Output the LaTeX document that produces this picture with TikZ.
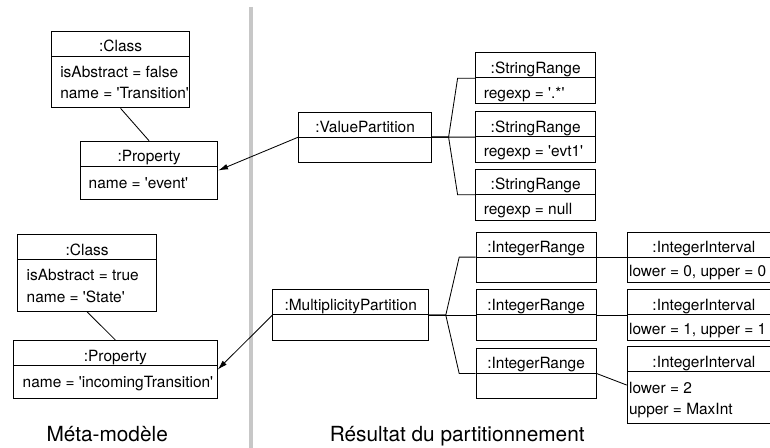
\documentclass[tikz,border=0pt]{standalone}
\usepackage{fontspec}
\setmainfont{TeX Gyre Heros}
\usetikzlibrary{arrows.meta}

\tikzset{
  objbox/.style={draw, line width=0.7pt, anchor=north west, inner sep=0pt,
    path picture={\draw[line width=0.7pt]
      ([yshift=-0.625cm]path picture bounding box.north west) --
      ([yshift=-0.625cm]path picture bounding box.north east);}},
  objname/.style={anchor=base, inner sep=0pt, font=\fontsize{11}{13}\selectfont},
  objattr/.style={anchor=base west, inner sep=0pt, font=\fontsize{11}{13}\selectfont},
  link/.style={line width=0.6pt},
  sidetitle/.style={anchor=base, inner sep=0pt, font=\fontsize{14.8}{17}\selectfont},
}
\newcommand{\q}{\textquotesingle}

\begin{document}
\begin{tikzpicture}[>={Latex[length=7pt,width=4pt]}]
	  \useasboundingbox (0,0) rectangle (19.25,-11.2);
	  % separation
	  \draw[line width=2.5pt,black!22] (6.27,-0.17) -- (6.27,-11.2);
	  % meta-modele
	  \node[objbox,minimum width=3.465cm,minimum height=1.915cm] (cls1) at (1.27,-0.77) {};
	  \node[objname] (cls1t) at ([yshift=-0.525cm]cls1.north) {:Class};
	  \node[objattr] (cls1a) at ([xshift=0.23cm,yshift=-1.16cm]cls1.north west) {isAbstract = false};
	  \node[objattr] (cls1b) at ([xshift=0.23cm,yshift=-1.70cm]cls1.north west) {name = \q Transition\q};
	  \node[objbox,minimum width=3.43cm,minimum height=1.46cm] (prop1) at (2.0,-3.52) {};
	  \node[objname] (prop1t) at ([yshift=-0.525cm]prop1.north) {:Property};
	  \node[objattr] (prop1a) at ([xshift=0.21cm,yshift=-1.19cm]prop1.north west) {name = \q event\q};
	  \node[objbox,minimum width=3.47cm,minimum height=1.92cm] (cls2) at (0.43,-5.85) {};
	  \node[objname] (cls2t) at ([yshift=-0.525cm]cls2.north) {:Class};
	  \node[objattr] (cls2a) at ([xshift=0.23cm,yshift=-1.16cm]cls2.north west) {isAbstract = true};
	  \node[objattr] (cls2b) at ([xshift=0.23cm,yshift=-1.70cm]cls2.north west) {name = \q State\q};
	  \node[objbox,minimum width=5.085cm,minimum height=1.46cm] (prop2) at (0.33,-8.5) {};
	  \node[objname] (prop2t) at ([yshift=-0.525cm]prop2.north) {:Property};
	  \node[objattr] (prop2a) at ([xshift=0.23cm,yshift=-1.19cm]prop2.north west) {name = \q incomingTransition\q};
	  \draw[link] (cls1.south) -- (prop1.north);
	  \draw[link] (cls2.south) -- (prop2.north);
	  % partitions
	  \node[objbox,minimum width=3.31cm,minimum height=1.25cm] (vpart) at (7.46,-2.79) {};
	  \node[objname] (vpartt) at ([yshift=-0.525cm]vpart.north) {:ValuePartition};
	  \node[objbox,minimum width=3.89cm,minimum height=1.27cm] (mpart) at (6.81,-7.23) {};
	  \node[objname] (mpartt) at ([yshift=-0.525cm]mpart.north) {:MultiplicityPartition};
	  \draw[link,->] (vpart.west) -- (prop1.east);
	  \draw[link,->] (mpart.west) -- (prop2.east);
	  % string ranges
	  \node[objbox,minimum width=3.0cm,minimum height=1.27cm] (sr1) at (11.88,-1.31) {};
	  \node[objname] (sr1t) at ([yshift=-0.525cm]sr1.north) {:StringRange};
	  \node[objattr] (sr1a) at ([xshift=0.21cm,yshift=-1.14cm]sr1.north west) {regexp = \q.*\q};
	  \node[objbox,minimum width=3.0cm,minimum height=1.27cm] (sr2) at (11.88,-2.78) {};
	  \node[objname] (sr2t) at ([yshift=-0.525cm]sr2.north) {:StringRange};
	  \node[objattr] (sr2a) at ([xshift=0.21cm,yshift=-1.14cm]sr2.north west) {regexp = \q evt1\q};
	  \node[objbox,minimum width=3.0cm,minimum height=1.27cm] (sr3) at (11.88,-4.22) {};
	  \node[objname] (sr3t) at ([yshift=-0.525cm]sr3.north) {:StringRange};
	  \node[objattr] (sr3a) at ([xshift=0.21cm,yshift=-1.14cm]sr3.north west) {regexp = null};
	  \draw[link] (vpart.east) -- ++(0.42,0) -- ([xshift=-0.44cm]sr1.west) -- (sr1.west);
	  \draw[link] (vpart.east) -- (sr2.west);
	  \draw[link] (vpart.east) -- ++(0.42,0) -- ([xshift=-0.44cm]sr3.west) -- (sr3.west);
	  % integer ranges
	  \node[objbox,minimum width=3.0cm,minimum height=1.25cm] (ir1) at (11.89,-5.79) {};
	  \node[objname] (ir1t) at ([yshift=-0.525cm]ir1.north) {:IntegerRange};
	  \node[objbox,minimum width=3.0cm,minimum height=1.27cm] (ir2) at (11.89,-7.23) {};
	  \node[objname] (ir2t) at ([yshift=-0.525cm]ir2.north) {:IntegerRange};
	  \node[objbox,minimum width=3.0cm,minimum height=1.27cm] (ir3) at (11.89,-8.69) {};
	  \node[objname] (ir3t) at ([yshift=-0.525cm]ir3.north) {:IntegerRange};
	  \draw[link] (mpart.east) -- ++(0.42,0) -- ([xshift=-0.41cm]ir1.west) -- (ir1.west);
	  \draw[link] (mpart.east) -- (ir2.west);
	  \draw[link] (mpart.east) -- ++(0.42,0) -- ([xshift=-0.41cm]ir3.west) -- (ir3.west);
	  % integer intervals
	  \node[objbox,minimum width=3.83cm,minimum height=1.25cm] (ii1) at (15.67,-5.79) {};
	  \node[objname] (ii1t) at ([yshift=-0.525cm]ii1.north) {:IntegerInterval};
	  \node[objattr] (ii1a) at ([xshift=0.05cm,yshift=-1.13cm]ii1.north west) {lower = 0, upper = 0};
	  \node[objbox,minimum width=3.83cm,minimum height=1.27cm] (ii2) at (15.67,-7.23) {};
	  \node[objname] (ii2t) at ([yshift=-0.525cm]ii2.north) {:IntegerInterval};
	  \node[objattr] (ii2a) at ([xshift=0.05cm,yshift=-1.13cm]ii2.north west) {lower = 1, upper = 1};
	  \node[objbox,minimum width=3.83cm,minimum height=1.93cm] (ii3) at (15.67,-8.65) {};
	  \node[objname] (ii3t) at ([yshift=-0.525cm]ii3.north) {:IntegerInterval};
	  \node[objattr] (ii3a) at ([xshift=0.05cm,yshift=-1.18cm]ii3.north west) {lower = 2};
	  \node[objattr] (ii3b) at ([xshift=0.05cm,yshift=-1.72cm]ii3.north west) {upper = MaxInt};
	  \draw[link] (ir1.east) -- (ii1.west);
	  \draw[link] (ir2.east) -- (ii2.west);
	  \draw[link] (ir3.east) -- (ii3.west);
	  % legendes
	  \node[sidetitle] (meta) at (2.68,-11.025) {Méta-modèle};
	  \node[sidetitle] (result) at (11.43,-11.025) {Résultat du partitionnement};
\end{tikzpicture}
\end{document}
